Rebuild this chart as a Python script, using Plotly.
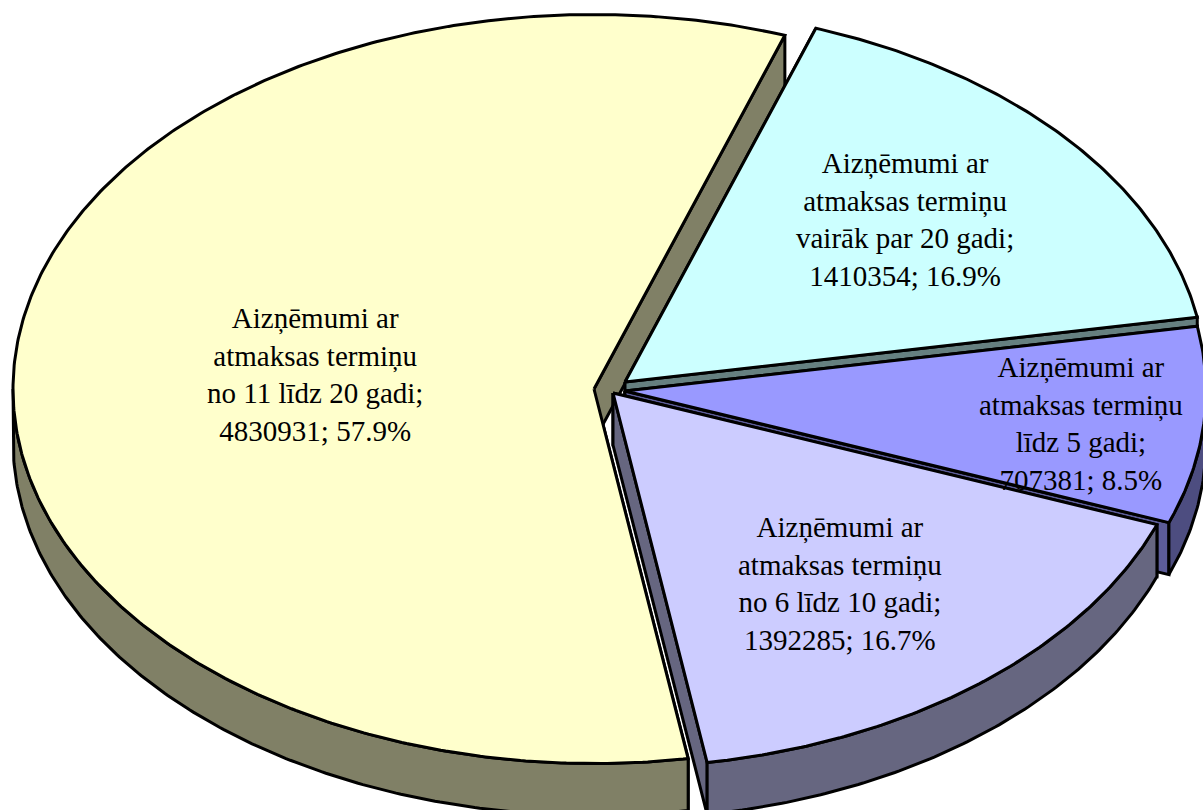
import numpy as np
import plotly.graph_objects as go

# ---- data ----
categories = [
    "Aizņēmumi ar<br>atmaksas termiņu<br>līdz 5 gadi",
    "Aizņēmumi ar<br>atmaksas termiņu<br>no 6 līdz 10 gadi",
    "Aizņēmumi ar<br>atmaksas termiņu<br>no 11 līdz 20 gadi",
    "Aizņēmumi ar<br>atmaksas termiņu<br>vairāk par 20 gadi",
]
values = [707381, 1392285, 4830931, 1410354]

# ---- style and projection ----
top_colors = ["#9999FF", "#CCCCFF", "#FFFFCC", "#CCFFFF"]
wall_colors = ["#4D4D80", "#666680", "#808066", "#668080"]
radial_colors = ["#5C5C99", "#666680", "#808066", "#668080"]
apex_x = [625, 613, 594, 625]
apex_y = [391, 393, 389, 382]
label_x = [1081, 840, 315, 905]
label_y = [423, 583, 374, 219]
RX, RY, DEPTH = 581.0, 374.5, 52.0
START = 80.05
draw_order = [2, 3, 0, 1]
W, H = 1203, 810
LW = 3

total = sum(values)
fractions = [v / total for v in values]
starts = [START + 360 * sum(fractions[:i]) for i in range(len(values))]
ends = [START + 360 * sum(fractions[: i + 1]) for i in range(len(values))]


def arc(i, a0, a1, dy=0.0):
    t = np.radians(np.linspace(a0, a1, max(int(abs(a1 - a0)) * 2, 2)))
    return apex_x[i] + RX * np.sin(t), apex_y[i] - RY * np.cos(t) + dy


def polygon(fig, xs, ys, color):
    fig.add_trace(go.Scatter(
        x=list(xs), y=list(ys), mode="lines", fill="toself", fillcolor=color,
        line=dict(color="black", width=LW), hoverinfo="skip", showlegend=False,
    ))


fig = go.Figure()
for i in draw_order:
    # radial faces
    for ang in (starts[i], ends[i]):
        ex, ey = arc(i, ang, ang)
        px, py = ex[0], ey[0]
        polygon(fig,
                [apex_x[i], px, px, apex_x[i], apex_x[i]],
                [apex_y[i], py, py + DEPTH, apex_y[i] + DEPTH, apex_y[i]],
                radial_colors[i])
    # outer wall, front half only
    lo, hi = max(starts[i], 90), min(ends[i], 270)
    if lo < hi:
        x0, y0 = arc(i, lo, hi)
        x1, y1 = arc(i, hi, lo, DEPTH)
        polygon(fig, np.r_[x0, x1, x0[0]], np.r_[y0, y1, y0[0]], wall_colors[i])
    # top face
    xa, ya = arc(i, starts[i], ends[i])
    polygon(fig,
            np.r_[apex_x[i], xa, apex_x[i]],
            np.r_[apex_y[i], ya, apex_y[i]],
            top_colors[i])

for i, cat in enumerate(categories):
    text = f"{cat};<br>{values[i]}; {100 * fractions[i]:.1f}%"
    fig.add_annotation(x=label_x[i], y=label_y[i], xref="x", yref="y", text=text,
                       showarrow=False, align="center",
                       font=dict(family="Liberation Serif", size=29, color="black"))

fig.update_layout(
    width=W, height=H, margin=dict(l=0, r=0, t=0, b=0),
    paper_bgcolor="white", plot_bgcolor="white", showlegend=False,
    xaxis=dict(range=[0, W], visible=False, fixedrange=True),
    yaxis=dict(range=[H, 0], visible=False, fixedrange=True),
)
fig.write_html("out.html", config={"displayModeBar": False},
               post_script="document.body.style.margin='0';document.body.style.overflow='hidden';")
